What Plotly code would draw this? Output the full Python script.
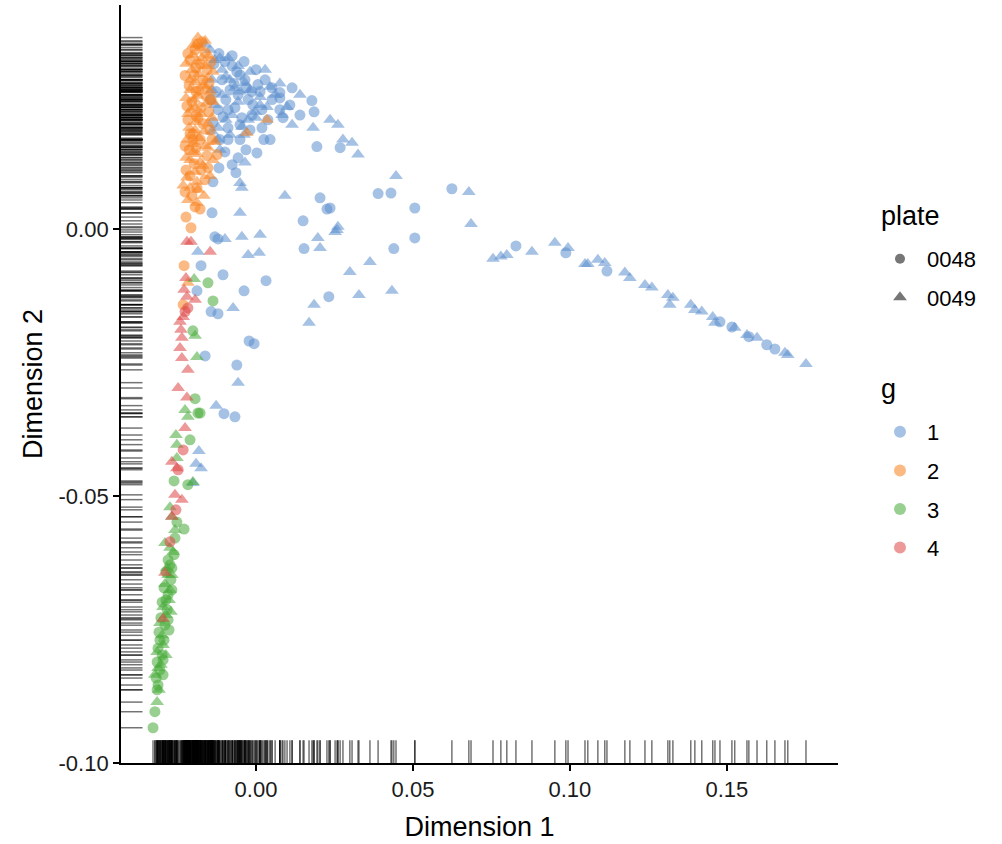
import plotly.graph_objects as go

# ---------------- data (Dimension 1, Dimension 2) ----------------
g1_plate0048 = [(-0.0118,0.0328),(-0.0061,0.0294),(-0.0013,0.0257),(0.0013,0.0257),(0.0076,0.0255),(0.0076,0.0245),(0.0178,0.0240),(0.0185,0.0219),(-0.0013,0.0213),(0.0076,0.0223),(0.0045,0.0167),(0.0194,0.0154),(-0.0115,0.0167),(-0.0089,0.0167),(0.0003,0.0142),(-0.0057,0.0133),(0.0268,0.0152),(0.0086,0.0208),(-0.0010,0.0232),(-0.0105,0.0210),(-0.0137,0.0199),(-0.0118,0.0114),(-0.0064,0.0105),(-0.0137,0.0088),(0.0204,0.0058),(0.0226,0.0037),(-0.0140,0.0030),(0.0150,0.0015),(-0.0131,-0.0015),(-0.0121,-0.0019),(0.0153,-0.0037),(-0.0175,-0.0069),(-0.0105,-0.0086),(0.0032,-0.0097),(-0.0188,-0.0116),(-0.0038,-0.0116),(-0.0143,-0.0155),(-0.0121,-0.0159),(0.0232,-0.0127),(-0.0022,-0.0210),(-0.0006,-0.0215),(-0.0162,-0.0238),(-0.0061,-0.0255),(-0.0102,-0.0346),(-0.0067,-0.0352),(0.0389,0.0066),(0.0430,0.0067),(0.0624,0.0075),(0.0506,0.0039),(0.0236,0.0039),(0.0506,-0.0017),(0.0439,-0.0037),(0.0828,-0.0032),(0.0987,-0.0045),(0.1118,-0.0079),(0.1478,-0.0174),(0.1516,-0.0184),(0.1570,-0.0202),(0.1627,-0.0217),(0.1653,-0.0225),
                (-0.0099,0.0313),(-0.0076,0.0305),(-0.0051,0.0288),(-0.0035,0.0279),(-0.0083,0.0260),(-0.0057,0.0251),(-0.0025,0.0242),(-0.0067,0.0227),(-0.0045,0.0208),(-0.0089,0.0189),(0.0019,0.0223),(0.0038,0.0204),(-0.0019,0.0185),(-0.0096,0.0242),(-0.0038,0.0313),(0.0000,0.0298),(0.0029,0.0279),(0.0051,0.0242),(0.0108,0.0232),(0.0140,0.0213),(0.0019,0.0189),(-0.0051,0.0167),(-0.0099,0.0144),(-0.0076,0.0120),(-0.0032,0.0148),
                (-0.0134,0.0309),(-0.0108,0.0279),(-0.0070,0.0272),(-0.0127,0.0257),(-0.0032,0.0264),(-0.0089,0.0223),(-0.0121,0.0223),(-0.0051,0.0195),(0.0006,0.0270),(0.0051,0.0264),(0.0115,0.0264),(-0.0076,0.0324),(-0.0146,0.0242),(0.0025,0.0167)]

g1_plate0049 = [(-0.0146,0.0335),(-0.0035,0.0273),(0.0045,0.0266),(0.0035,0.0228),(0.0099,0.0228),(0.0115,0.0195),(0.0182,0.0189),(0.0236,0.0204),(0.0261,0.0195),(0.0277,0.0167),(-0.0121,0.0189),(-0.0045,0.0191),(0.0013,0.0247),(-0.0083,0.0279),(0.0306,0.0161),(0.0325,0.0139),(-0.0035,0.0124),(-0.0051,0.0086),(-0.0045,0.0077),(0.0092,0.0062),(-0.0051,0.0030),(0.0258,-0.0002),(-0.0099,-0.0019),(-0.0045,-0.0015),(0.0013,-0.0011),(0.0197,-0.0017),(0.0204,-0.0036),(-0.0185,-0.0043),(-0.0025,-0.0049),(0.0010,-0.0045),(-0.0073,-0.0148),(0.0185,-0.0142),(0.0169,-0.0176),(0.0328,-0.0124),(0.0299,-0.0081),(-0.0057,-0.0288),(-0.0127,-0.0331),(0.0446,0.0099),(0.0678,0.0069),(0.0685,0.0009),(0.0261,0.0004),(0.0252,-0.0006),(0.0363,-0.0062),(0.0433,-0.0116),(0.0755,-0.0056),(0.0780,-0.0052),(0.0799,-0.0049),(0.0879,-0.0043),(0.0952,-0.0026),(0.0994,-0.0036),(0.1048,-0.0066),(0.1057,-0.0066),(0.1089,-0.0058),(0.1111,-0.0064),(0.1175,-0.0082),(0.1191,-0.0092),(0.1239,-0.0105),(0.1261,-0.0110),(0.1312,-0.0124),(0.1328,-0.0129),(0.1318,-0.0142),(0.1385,-0.0142),(0.1398,-0.0152),(0.1420,-0.0155),(0.1455,-0.0165),(0.1462,-0.0176),(0.1525,-0.0185),(0.1564,-0.0199),(0.1596,-0.0204),(0.1685,-0.0232),(0.1694,-0.0236),(0.1752,-0.0253),(-0.0182,-0.0416),(-0.0191,-0.0440),(-0.0175,-0.0448),(-0.0201,-0.0476),
                (-0.0162,0.0345),(-0.0131,0.0316),(-0.0108,0.0298),(-0.0089,0.0320),(-0.0067,0.0264),(-0.0019,0.0260),(-0.0003,0.0219),(-0.0076,0.0213),(-0.0108,0.0251),(-0.0057,0.0238),(-0.0025,0.0204),(0.0061,0.0251),(0.0083,0.0213),(0.0140,0.0251),(0.0029,0.0298),(-0.0140,0.0279),(-0.0131,0.0232),(-0.0115,0.0148),(-0.0083,0.0176),
                (-0.0115,0.0320),(-0.0057,0.0305),(-0.0019,0.0294),(-0.0096,0.0285),(-0.0140,0.0260),(-0.0051,0.0257),(0.0013,0.0232),(-0.0096,0.0204),(-0.0140,0.0182),(-0.0038,0.0176),(0.0076,0.0272),(0.0000,0.0208),(-0.0121,0.0167)]

g2_plate0048 = [(-0.0172,0.0350),(-0.0194,0.0335),(-0.0162,0.0330),(-0.0210,0.0316),(-0.0178,0.0309),(-0.0156,0.0298),(-0.0197,0.0287),(-0.0169,0.0279),(-0.0213,0.0268),(-0.0182,0.0260),(-0.0159,0.0249),(-0.0204,0.0238),(-0.0175,0.0227),(-0.0191,0.0212),(-0.0150,0.0219),(-0.0217,0.0204),(-0.0169,0.0197),(-0.0201,0.0178),(-0.0178,0.0167),(-0.0213,0.0148),(-0.0156,0.0137),(-0.0124,0.0139),(-0.0197,0.0122),(-0.0175,0.0110),(-0.0223,0.0110),(-0.0162,0.0092),(-0.0204,0.0062),(-0.0194,0.0041),(-0.0178,0.0037),(-0.0223,0.0022),(-0.0207,0.0002),(-0.0229,-0.0069),(-0.0232,-0.0142),(-0.0201,0.0167),(-0.0146,0.0185),
                (-0.0185,0.0346),(-0.0217,0.0328),(-0.0143,0.0313),(-0.0191,0.0301),(-0.0226,0.0287),(-0.0150,0.0272),(-0.0191,0.0257),(-0.0220,0.0230),(-0.0143,0.0242),(-0.0185,0.0208),(-0.0210,0.0178),(-0.0140,0.0167),(-0.0226,0.0155),(-0.0191,0.0152),(-0.0153,0.0114),(-0.0210,0.0099),(-0.0188,0.0077),(-0.0226,0.0069)]

g2_plate0049 = [(-0.0185,0.0358),(-0.0191,0.0345),(-0.0178,0.0339),(-0.0201,0.0326),(-0.0172,0.0320),(-0.0188,0.0313),(-0.0162,0.0305),(-0.0204,0.0298),(-0.0182,0.0290),(-0.0153,0.0283),(-0.0194,0.0275),(-0.0169,0.0268),(-0.0210,0.0260),(-0.0146,0.0257),(-0.0185,0.0249),(-0.0197,0.0242),(-0.0159,0.0234),(-0.0207,0.0223),(-0.0175,0.0215),(-0.0140,0.0208),(-0.0191,0.0200),(-0.0213,0.0189),(-0.0166,0.0182),(-0.0182,0.0170),(-0.0201,0.0159),(-0.0153,0.0152),(-0.0188,0.0140),(-0.0210,0.0129),(-0.0169,0.0118),(-0.0194,0.0107),(-0.0220,0.0096),(-0.0146,0.0099),(-0.0188,0.0088),(-0.0210,0.0077),(-0.0185,0.0073),(-0.0188,0.0049),(-0.0217,-0.0101),(-0.0029,0.0180),(0.0035,0.0204),(-0.0131,0.0163),(-0.0137,0.0129),
                (-0.0162,0.0352),(-0.0201,0.0343),(-0.0150,0.0324),(-0.0223,0.0309),(-0.0137,0.0294),(-0.0210,0.0279),(-0.0159,0.0264),(-0.0223,0.0245),(-0.0137,0.0238),(-0.0194,0.0227),(-0.0217,0.0215),(-0.0153,0.0197),(-0.0194,0.0185),(-0.0220,0.0167),(-0.0162,0.0155),(-0.0201,0.0144),(-0.0223,0.0133),(-0.0178,0.0125),(-0.0232,0.0081),(-0.0166,0.0062),(-0.0217,0.0054)]

g3_plate0048 = [(-0.0153,-0.0101),(-0.0137,-0.0135),(-0.0201,-0.0191),(-0.0194,-0.0318),(-0.0185,-0.0345),(-0.0210,-0.0395),(-0.0261,-0.0472),(-0.0217,-0.0479),(-0.0252,-0.0549),(-0.0229,-0.0562),(-0.0258,-0.0579),(-0.0280,-0.0620),(-0.0178,-0.0345),(-0.0322,-0.0904),(-0.0328,-0.0934),
                (-0.0274,-0.0629),(-0.0287,-0.0642),(-0.0271,-0.0657),(-0.0293,-0.0672),(-0.0280,-0.0685),(-0.0299,-0.0699),(-0.0283,-0.0713),(-0.0303,-0.0728),(-0.0290,-0.0742),(-0.0309,-0.0755),(-0.0293,-0.0770),(-0.0312,-0.0785),(-0.0299,-0.0798),(-0.0315,-0.0811),(-0.0306,-0.0826),(-0.0318,-0.0841),(-0.0312,-0.0854),(-0.0268,-0.0676),(-0.0277,-0.0751),(-0.0296,-0.0807),
                (-0.0287,-0.0695),(-0.0268,-0.0635),(-0.0306,-0.0770),(-0.0296,-0.0835),(-0.0280,-0.0732),(-0.0261,-0.0610),(-0.0315,-0.0863)]

g3_plate0049 = [(-0.0197,-0.0094),(-0.0194,-0.0200),(-0.0188,-0.0240),(-0.0226,-0.0339),(-0.0217,-0.0352),(-0.0255,-0.0386),(-0.0252,-0.0404),(-0.0252,-0.0429),(-0.0201,-0.0474),(-0.0274,-0.0521),(-0.0268,-0.0539),(-0.0290,-0.0588),(-0.0264,-0.0605),(-0.0315,-0.0886),
                (-0.0283,-0.0635),(-0.0268,-0.0648),(-0.0290,-0.0665),(-0.0277,-0.0695),(-0.0296,-0.0708),(-0.0287,-0.0723),(-0.0306,-0.0738),(-0.0296,-0.0779),(-0.0315,-0.0792),(-0.0303,-0.0816),(-0.0322,-0.0835),(-0.0309,-0.0863),(-0.0274,-0.0597),(-0.0258,-0.0564),(-0.0280,-0.0648),
                (-0.0274,-0.0676),(-0.0299,-0.0761),(-0.0287,-0.0798),(-0.0312,-0.0822),(-0.0271,-0.0717)]

g4_plate0048 = [(-0.0217,-0.0148),(-0.0232,-0.0414),(-0.0274,-0.0586),(-0.0226,-0.0155),(-0.0248,-0.0451),(-0.0255,-0.0526)]

g4_plate0049 = [(-0.0220,-0.0024),(-0.0207,-0.0024),(-0.0146,-0.0043),(-0.0220,-0.0127),(-0.0194,-0.0133),(-0.0232,-0.0165),(-0.0239,-0.0189),(-0.0236,-0.0204),(-0.0242,-0.0223),(-0.0236,-0.0242),(-0.0217,-0.0264),(-0.0248,-0.0298),(-0.0220,-0.0316),(-0.0226,-0.0373),(-0.0268,-0.0436),(-0.0252,-0.0448),(-0.0258,-0.0498),(-0.0236,-0.0507),(-0.0268,-0.0539),(-0.0290,-0.0644),(-0.0296,-0.0730),(-0.0223,-0.0092),(-0.0229,-0.0114),(-0.0242,-0.0174)]

groups = ["1", "2", "3", "4"]
plates = ["0048", "0049"]
x_ticks = [0.00, 0.05, 0.10, 0.15]
x_tick_labels = ["0.00", "0.05", "0.10", "0.15"]
y_ticks = [-0.10, -0.05, 0.00]
y_tick_labels = ["-0.10", "-0.05", "0.00"]

series = {
    ("1", "0048"): g1_plate0048, ("1", "0049"): g1_plate0049,
    ("2", "0048"): g2_plate0048, ("2", "0049"): g2_plate0049,
    ("3", "0048"): g3_plate0048, ("3", "0049"): g3_plate0049,
    ("4", "0048"): g4_plate0048, ("4", "0049"): g4_plate0049,
}

# ---------------- styles ----------------
colors = {"1": "rgb(91,142,206)", "2": "rgb(247,130,30)", "3": "rgb(70,170,55)", "4": "rgb(222,70,70)"}
symbols = {"0048": "circle", "0049": "triangle-up"}
sizes = {"0048": 11, "0049": 12}
ALPHA = 0.55
FONT = "Liberation Sans, Arial, sans-serif"
TICK_FONT = dict(family=FONT, size=22, color="#1a1a1a")
TITLE_FONT = dict(family=FONT, size=27, color="black")

fig = go.Figure()

for g in groups:
    for p in plates:
        pts = series[(g, p)]
        fig.add_trace(go.Scatter(
            x=[a for a, b in pts], y=[b for a, b in pts], mode="markers",
            marker=dict(symbol=symbols[p], size=sizes[p], color=colors[g],
                        opacity=ALPHA, line=dict(width=0)),
            showlegend=False, hoverinfo="x+y"))

# rugs
all_pts = [pt for pts in series.values() for pt in pts]
rug_line = dict(color="rgba(0,0,0,0.55)", width=1.5)
shapes = []
for a, b in all_pts:
    shapes.append(dict(type="line", xref="x", yref="y domain", x0=a, x1=a, y0=0, y1=0.03,
                       line=rug_line, layer="below"))
    shapes.append(dict(type="line", xref="x domain", yref="y", x0=0, x1=0.03, y0=b, y1=b,
                       line=rug_line, layer="below"))

# legend entries: plate
for p in plates:
    fig.add_trace(go.Scatter(
        x=[None], y=[None], mode="markers", name=p, legend="legend", legendgroup="p" + p,
        marker=dict(symbol=symbols[p], size=10 if p == "0048" else 12, color="rgb(118,118,118)", line=dict(width=0))))
# legend entries: g
for g in groups:
    fig.add_trace(go.Scatter(
        x=[None], y=[None], mode="markers", name=g, legend="legend2", legendgroup="g" + g,
        marker=dict(symbol="circle", size=12, color=colors[g], opacity=ALPHA, line=dict(width=0))))

axis_common = dict(showgrid=False, zeroline=False, showline=True, linecolor="black", linewidth=1.8,
                   ticks="outside", ticklen=6, tickwidth=1.5, tickcolor="black",
                   tickfont=TICK_FONT)

legend_common = dict(xanchor="left", yanchor="top", font=dict(family=FONT, size=22, color="black"),
                     tracegroupgap=7, itemwidth=44, bgcolor="rgba(0,0,0,0)")

# legend titles (placed as text above each key block)
legend_titles = [
    dict(text="plate", x=1.0572, y=0.7216),
    dict(text="g", x=1.0572, y=0.4934),
]

fig.update_layout(
    width=1002, height=844, autosize=False,
    margin=dict(l=121, r=164, t=5, b=81),
    plot_bgcolor="white", paper_bgcolor="white",
    font=dict(family=FONT, color="black"),
    shapes=shapes,
    xaxis=dict(range=[-0.0430, 0.1854], tickvals=x_ticks, ticktext=x_tick_labels,
               title=dict(text="Dimension 1", font=TITLE_FONT, standoff=16), **axis_common),
    yaxis=dict(range=[-0.1000, 0.0419], tickvals=y_ticks, ticktext=y_tick_labels,
               title=dict(text="Dimension 2", font=TITLE_FONT, standoff=8), **axis_common),
    legend=dict(x=1.0488, y=0.6927, **legend_common),
    legend2=dict(x=1.0488, y=0.4644, **legend_common),
    annotations=[dict(text=t["text"], x=t["x"], y=t["y"], xref="paper", yref="paper",
                      xanchor="left", yanchor="middle", showarrow=False, font=TITLE_FONT)
                 for t in legend_titles],
)

fig.write_html("out.html")
